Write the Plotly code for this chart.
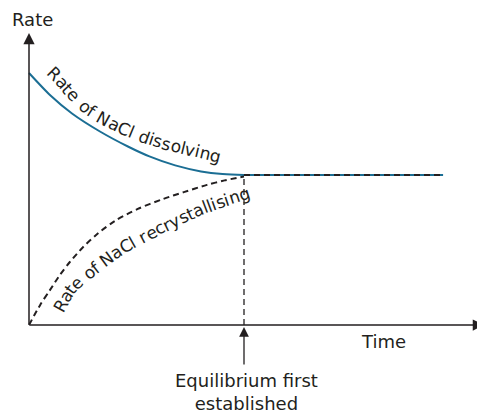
import math
import numpy as np
import plotly.graph_objects as go

# Data (arbitrary units)
dissolve_t = [0.0, 0.5, 1.0, 1.65, 2.3, 2.8, 3.4, 4.0, 4.5, 5.0, 6.5, 9.63]
dissolve_r = [8.4, 7.65, 7.05, 6.45, 5.95, 5.62, 5.32, 5.12, 5.03, 5.0, 5.0, 5.0]
recryst_t = [0.0, 0.26, 0.49, 0.72, 0.95, 1.26, 1.6, 2.0, 2.53, 3.12, 3.6, 4.14, 4.55, 5.0]
recryst_r = [0.0, 0.67, 1.17, 1.67, 2.1, 2.6, 3.05, 3.47, 3.87, 4.2, 4.43, 4.67, 4.82, 4.95]
plateau_t = [5.0, 9.63]
plateau_r = [5.0, 5.0]
equilibrium_t = 5.0
equilibrium_r = 5.0

dissolve_label = "Rate of NaCl dissolving"
recryst_label = "Rate of NaCl recrystallising"

OFF = 8  # default page body margin
W, H = 485 - OFF, 416 - OFF
PX_PER_T = 43.0
PX_PER_R = 30.0
X0_PX, Y0_PX = 29.0 - OFF, 325.0 - OFF
x_range = [-X0_PX / PX_PER_T, (W - X0_PX) / PX_PER_T]
y_range = [-(H - Y0_PX) / PX_PER_R, Y0_PX / PX_PER_R]

def px(x):
    return (x - OFF - X0_PX) / PX_PER_T

def py(y):
    return (Y0_PX - (y - OFF)) / PX_PER_R

BLUE = "#1b6e94"
INK = "#231f20"
FONT = "DejaVu Sans"

fig = go.Figure()
fig.add_trace(go.Scatter(x=dissolve_t, y=dissolve_r, mode="lines",
                         line=dict(color=BLUE, width=2, shape="spline", smoothing=0.8),
                         hoverinfo="skip"))
fig.add_trace(go.Scatter(x=recryst_t, y=recryst_r, mode="lines",
                         line=dict(color=INK, width=2, dash="6px,4px", shape="spline", smoothing=0.8),
                         hoverinfo="skip"))
fig.add_trace(go.Scatter(x=plateau_t, y=plateau_r, mode="lines",
                         line=dict(color=INK, width=2, dash="6px,4px"),
                         hoverinfo="skip"))
fig.add_trace(go.Scatter(x=[equilibrium_t, equilibrium_t], y=[0, equilibrium_r], mode="lines",
                         line=dict(color=INK, width=1.3, dash="6px,4px"),
                         hoverinfo="skip"))

ann = []
# Axes with arrows
ann.append(dict(x=px(484), y=0, ax=px(28), ay=0, xref="x", yref="y", axref="x", ayref="y",
                showarrow=True, arrowhead=2, arrowsize=1.5, arrowwidth=1.5, arrowcolor=INK, text=""))
ann.append(dict(x=0, y=py(33), ax=0, ay=py(326), xref="x", yref="y", axref="x", ayref="y",
                showarrow=True, arrowhead=2, arrowsize=1.5, arrowwidth=1.5, arrowcolor=INK, text=""))
# Equilibrium arrow
ann.append(dict(x=equilibrium_t, y=py(327), ax=equilibrium_t, ay=py(366), xref="x", yref="y",
                axref="x", ayref="y", showarrow=True, arrowhead=2, arrowsize=1.5, arrowwidth=1.3,
                arrowcolor=INK, text=""))

def txt(x, y, t, size=15, angle=0, xanchor="center", yanchor="middle"):
    ann.append(dict(x=px(x), y=py(y), text=t, showarrow=False, textangle=angle,
                    font=dict(family=FONT, size=size, color=INK),
                    xanchor=xanchor, yanchor=yanchor, borderpad=0))

txt(32, 19, "Rate", 18)
txt(383, 341, "Time", 18)
txt(246, 392, "Equilibrium first<br>established", 18)

# ---- text along a curved path (per character) ----
CHAR_W = {"R": .695, "a": .613, "t": .392, "e": .615, " ": .318, "o": .612, "f": .352,
          "N": .748, "C": .698, "l": .278, "d": .635, "i": .278, "s": .521, "v": .592,
          "n": .634, "g": .635, "r": .411, "c": .550, "y": .592}

def catmull(points, n=40):
    pts = np.array(points, dtype=float)
    ext = np.vstack([2 * pts[0] - pts[1], pts, 2 * pts[-1] - pts[-2]])
    out = []
    for i in range(1, len(ext) - 2):
        p0, p1, p2, p3 = ext[i - 1], ext[i], ext[i + 1], ext[i + 2]
        for s in np.linspace(0, 1, n, endpoint=False):
            out.append(0.5 * ((2 * p1) + (-p0 + p2) * s + (2 * p0 - 5 * p1 + 4 * p2 - p3) * s * s
                              + (-p0 + 3 * p1 - 3 * p2 + p3) * s ** 3))
    out.append(pts[-1])
    return np.array(out)

def text_on_path(text, path_pts, size):
    p = catmull(path_pts)
    seg = np.hypot(np.diff(p[:, 0]), np.diff(p[:, 1]))
    cum = np.concatenate([[0], np.cumsum(seg)])
    total = sum(CHAR_W[c] for c in text) * size
    pos = (cum[-1] - total) / 2
    for c in text:
        w = CHAR_W[c] * size
        s = pos + w / 2
        pos += w
        if c == " ":
            continue
        i = int(np.clip(np.searchsorted(cum, s) - 1, 0, len(seg) - 1))
        f = (s - cum[i]) / seg[i] if seg[i] > 0 else 0
        x = p[i, 0] + f * (p[i + 1, 0] - p[i, 0])
        y = p[i, 1] + f * (p[i + 1, 1] - p[i, 1])
        j0, j1 = max(i - 3, 0), min(i + 4, len(p) - 1)
        ang = math.degrees(math.atan2(p[j1, 1] - p[j0, 1], p[j1, 0] - p[j0, 0]))
        txt(x, y, c, size, ang)

dissolve_path = [(50, 70), (57, 77), (67, 88), (80, 102), (92, 112), (120, 127),
                 (150, 139), (180, 147), (221, 157)]
recryst_path = [(55, 316), (60, 307), (68, 293), (77, 282), (92, 270), (115, 253),
                (142, 237), (187, 215), (220, 202), (255, 191)]
text_on_path(dissolve_label, dissolve_path, 17)
text_on_path(recryst_label, recryst_path, 17)

fig.update_layout(
    width=W, height=H, margin=dict(l=0, r=0, t=0, b=0),
    paper_bgcolor="white", plot_bgcolor="white", showlegend=False,
    xaxis=dict(range=x_range, visible=False, fixedrange=True),
    yaxis=dict(range=y_range, visible=False, fixedrange=True),
    annotations=ann,
)
fig.write_html("out.html")
